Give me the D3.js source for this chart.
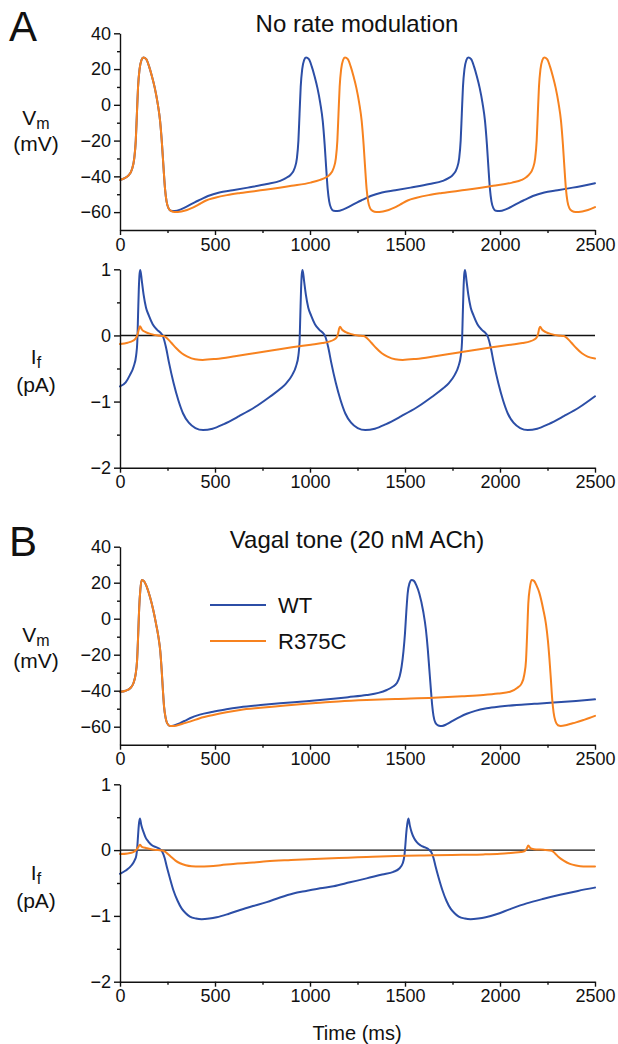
<!DOCTYPE html>
<html>
<head>
<meta charset="utf-8">
<script src="https://cdn.jsdelivr.net/npm/d3@7"></script>
<style>
  body { margin: 0; background: #fff; }
  svg text { font-family: "Liberation Sans", Arial, Helvetica, sans-serif; fill: #111; }
</style>
</head>
<body>
<svg id="svg" width="618" height="1044"></svg>
<script>
// ---- tick values and labels ----
const timeTicks = [0, 500, 1000, 1500, 2000, 2500];
const timeMinorTicks = [250, 750, 1250, 1750, 2250];
const vmTicks = [-60, -40, -20, 0, 20, 40];
const vmMinorTicks = [-50, -30, -10, 10, 30];
const ifTicks = [-2, -1, 0, 1];
const ifMinorTicks = [-1.5, -0.5, 0.5];
const seriesNames = ["WT", "R375C"];
const panelTitles = ["No rate modulation", "Vagal tone (20 nM ACh)"];
const panelLetters = ["A", "B"];

// ---- A: no rate modulation, membrane voltage [time ms, mV] ----
const vmWtA = [
  [0,-42],[25,-41],[45,-39.5],[63,-36],[75,-30],[83,-20],[89,-5],[95,10],[103,20],[113,25],[123,26.5],
  [138,25.5],[153,21.5],[168,16],[183,9.5],[198,1],[211,-9],[221,-22],[229,-35],[237,-47],[245,-54],[255,-57.8],[268,-59.3],[288,-59.4],
  [323,-58.3],[358,-56.5],[393,-54.5],[423,-53],[463,-51],[523,-49],[593,-47.8],[673,-46.3],[773,-44.3],[843,-42.5],[873,-41],
  [899,-39],[919,-35.5],[931,-30],[939,-20],[945,-5],[951,10],[959,20],[969,25],[979,26.5],
  [994,25.5],[1009,21.5],[1024,16],[1039,9.5],[1054,1],[1067,-9],[1077,-22],[1085,-35],[1093,-47],[1101,-54],[1111,-57.8],[1124,-59.3],[1144,-59.4],
  [1179,-58.3],[1214,-56.5],[1249,-54.5],[1279,-53],[1319,-51],[1379,-49],[1449,-47.8],[1529,-46.3],[1629,-44.3],[1699,-42.5],[1729,-41],
  [1753,-39],[1773,-35.5],[1785,-30],[1793,-20],[1799,-5],[1805,10],[1813,20],[1823,25],[1833,26.5],
  [1848,25.5],[1863,21.5],[1878,16],[1893,9.5],[1908,1],[1921,-9],[1931,-22],[1939,-35],[1947,-47],[1955,-54],[1965,-57.8],[1978,-59.3],[1998,-59.4],
  [2033,-58.3],[2068,-56.5],[2103,-54.5],[2133,-53],[2173,-51],[2233,-49],[2303,-47.8],[2383,-46.3],[2500,-43.8]
];
const vmR375cA = [
  [0,-42],[25,-41],[45,-39.5],[63,-36],[75,-30],[83,-20],[89,-5],[95,10],[103,20],[113,25],[123,26.5],
  [138,25.5],[153,21.5],[168,16],[183,9.5],[198,1],[211,-9],[221,-22],[229,-35],[237,-47],[245,-54],[255,-57.8],[268,-59.3],[288,-60],
  [323,-59.6],[353,-58.8],[383,-57.5],[413,-55.8],[453,-53.5],[500,-52],[563,-50.5],[633,-49.3],[763,-47.5],[903,-45.3],[1003,-43.5],[1053,-42],[1085,-40.5],
  [1104,-39],[1124,-35.5],[1136,-30],[1144,-20],[1150,-5],[1156,10],[1164,20],[1174,25],[1184,26.5],
  [1199,25.5],[1214,21.5],[1229,16],[1244,9.5],[1259,1],[1272,-9],[1282,-22],[1290,-35],[1298,-47],[1306,-54],[1316,-57.8],[1329,-59.3],[1349,-60],
  [1384,-59.6],[1414,-58.8],[1444,-57.5],[1474,-55.8],[1514,-53.5],[1561,-52],[1624,-50.5],[1694,-49.3],[1824,-47.5],[1964,-45.3],[2064,-43.5],[2114,-42],[2138,-40.5],
  [2153,-39],[2173,-35.5],[2185,-30],[2193,-20],[2199,-5],[2205,10],[2213,20],[2223,25],[2233,26.5],
  [2248,25.5],[2263,21.5],[2278,16],[2293,9.5],[2308,1],[2321,-9],[2331,-22],[2339,-35],[2347,-47],[2355,-54],[2365,-57.8],[2378,-59.3],[2398,-60],
  [2433,-59.6],[2463,-58.8],[2500,-57.2]
];

// ---- A: funny current [time ms, pA] ----
const ifWtA = [
  [0,-0.77],[30,-0.71],[52,-0.6],[72,-0.47],[85,-0.3],[91,-0.1],[95,0.3],[99,0.7],[103,0.93],[107,0.99],
  [115,0.82],[124,0.62],[137,0.42],[152,0.3],[172,0.17],[197,0.08],[217,0.03],[227,-0.02],[242,-0.18],[257,-0.4],[282,-0.72],[307,-0.98],[332,-1.18],[362,-1.32],[397,-1.4],[437,-1.43],[487,-1.41],[547,-1.34],[627,-1.22],[707,-1.09],[787,-0.93],[847,-0.8],
  [876,-0.72],[906,-0.6],[926,-0.47],[939,-0.3],[945,-0.1],[949,0.3],[953,0.7],[957,0.93],[961,0.99],
  [969,0.82],[978,0.62],[991,0.42],[1006,0.3],[1026,0.17],[1051,0.08],[1071,0.03],[1081,-0.02],[1096,-0.18],[1111,-0.4],[1136,-0.72],[1161,-0.98],[1186,-1.18],[1216,-1.32],[1251,-1.4],[1291,-1.43],[1341,-1.41],[1401,-1.34],[1481,-1.22],[1561,-1.09],[1641,-0.93],[1701,-0.8],
  [1731,-0.72],[1761,-0.6],[1781,-0.47],[1794,-0.3],[1800,-0.1],[1804,0.3],[1808,0.7],[1812,0.93],[1816,0.99],
  [1824,0.82],[1833,0.62],[1846,0.42],[1861,0.3],[1881,0.17],[1906,0.08],[1926,0.03],[1936,-0.02],[1951,-0.18],[1966,-0.4],[1991,-0.72],[2016,-0.98],[2041,-1.18],[2071,-1.32],[2106,-1.4],[2146,-1.43],[2196,-1.41],[2256,-1.34],[2336,-1.22],[2416,-1.09],[2500,-0.92]
];
const ifR375cA = [
  [0,-0.13],[40,-0.11],[68,-0.08],[84,-0.04],[93,0.02],[99,0.09],[105,0.14],
  [115,0.09],[135,0.05],[165,0.02],[200,0.0],[230,-0.01],[250,-0.05],[270,-0.11],[295,-0.19],[325,-0.27],[355,-0.32],[395,-0.36],[435,-0.37],[505,-0.355],[605,-0.315],[705,-0.27],[805,-0.225],[905,-0.18],[1005,-0.14],[1065,-0.115],[1105,-0.09],[1125,-0.065],
  [1140,-0.03],[1148,0.03],[1153,0.1],[1158,0.13],
  [1168,0.09],[1188,0.05],[1218,0.02],[1253,0.0],[1283,-0.01],[1303,-0.05],[1323,-0.11],[1348,-0.19],[1378,-0.27],[1408,-0.32],[1448,-0.36],[1488,-0.37],[1558,-0.355],[1658,-0.315],[1758,-0.27],[1858,-0.225],[1958,-0.18],[2058,-0.14],[2118,-0.115],[2158,-0.09],[2178,-0.065],
  [2193,-0.03],[2201,0.03],[2206,0.1],[2211,0.13],
  [2221,0.09],[2241,0.05],[2271,0.02],[2306,0.0],[2336,-0.01],[2356,-0.05],[2376,-0.11],[2401,-0.19],[2431,-0.27],[2461,-0.32],[2500,-0.35]
];

// ---- B: vagal tone, membrane voltage ----
const vmWtB = [
  [0,-40.6],[30,-40],[55,-38.5],[70,-36],[82,-31],[90,-23],[96,-8],[101,6],[107,16],[114,21.5],
  [125,21],[140,18],[158,12],[175,4.8],[190,-3],[202,-10],[212,-18],[219,-28],[226,-40],[232,-49],[240,-55],[248,-58],[263,-59.6],[285,-59.3],
  [316,-58],[340,-56.8],[368,-55.3],[420,-53.3],[491,-51.7],[560,-50.3],[632,-49.2],[740,-48],[842,-47],[947,-46.1],[1053,-45.2],[1123,-44.5],[1200,-43.6],[1298,-42.4],[1360,-41.2],[1404,-39.6],[1435,-37.8],[1456,-35.9],
  [1472,-32],[1482,-26.7],[1492,-18],[1500,-8],[1507,4],[1514,14],[1523,19.5],[1535,21.5],
  [1547,21],[1560,18.5],[1575,14],[1596,4],[1610,-6],[1620,-17],[1628,-28],[1636,-39],[1643,-48],[1650,-54],[1660,-57.8],[1675,-59.3],[1695,-59.6],
  [1720,-58.6],[1750,-56.8],[1790,-54.5],[1825,-52.8],[1870,-51.2],[1930,-49.8],[2000,-48.8],[2088,-47.9],[2180,-47.3],[2281,-46.6],[2400,-45.7],[2500,-44.8]
];
const vmR375cB = [
  [0,-40.6],[30,-40],[55,-38.5],[70,-36],[82,-31],[90,-23],[96,-8],[101,6],[107,16],[114,21.5],
  [125,21],[140,18],[158,12],[175,4.8],[190,-3],[202,-10],[212,-18],[219,-28],[226,-40],[232,-49],[240,-55],[248,-58],[263,-59.6],[285,-59.6],
  [316,-58.8],[340,-58],[368,-57.2],[420,-55.3],[491,-53.5],[560,-52],[632,-50.7],[740,-49.5],[842,-48.5],[947,-47.5],[1053,-46.7],[1150,-46],[1298,-45.2],[1450,-44.6],[1649,-43.9],[1800,-43.1],[1912,-42.4],[1990,-41.6],[2053,-40.6],[2090,-38.5],[2114,-35.9],
  [2128,-31],[2137,-23],[2143,-8],[2149,8.5],[2157,17],[2167,21.5],
  [2179,21],[2192,18.5],[2207,14.5],[2228,5],[2242,-3],[2252,-12],[2260,-22],[2268,-34],[2275,-45],[2282,-52],[2292,-57],[2305,-59.2],[2320,-59.6],
  [2345,-59.2],[2368,-58.5],[2400,-57.6],[2439,-56.3],[2470,-55.2],[2500,-54]
];

// ---- B: funny current ----
const ifWtB = [
  [0,-0.36],[30,-0.31],[61,-0.23],[78,-0.15],[86,-0.08],[91,0.05],[95,0.22],[99,0.38],[105,0.48],
  [112,0.38],[123,0.28],[135,0.19],[149,0.13],[170,0.07],[193,0.04],[212,0.01],[223,-0.03],[235,-0.12],[246,-0.25],[262,-0.42],[281,-0.61],[303,-0.77],[325,-0.89],[346,-0.96],[368,-1.01],[400,-1.04],[430,-1.05],[470,-1.04],[509,-1.02],[570,-0.97],[632,-0.91],[700,-0.85],[772,-0.79],[842,-0.72],[912,-0.66],[980,-0.62],[1053,-0.58],[1123,-0.55],[1210,-0.49],[1298,-0.43],[1380,-0.37],[1439,-0.33],[1470,-0.28],
  [1488,-0.2],[1497,-0.08],[1502,0.08],[1507,0.27],[1512,0.4],[1518,0.48],
  [1525,0.38],[1535,0.27],[1548,0.18],[1562,0.12],[1583,0.07],[1606,0.04],[1625,0.01],[1638,-0.03],[1650,-0.12],[1661,-0.25],[1677,-0.42],[1697,-0.61],[1718,-0.77],[1740,-0.89],[1761,-0.96],[1783,-1.01],[1815,-1.04],[1845,-1.05],[1885,-1.04],[1925,-1.02],[1985,-0.97],[2050,-0.9],[2140,-0.81],[2230,-0.74],[2316,-0.68],[2410,-0.62],[2500,-0.57]
];
const ifR375cB = [
  [0,-0.06],[40,-0.05],[70,-0.03],[88,0.01],[97,0.05],[105,0.08],
  [115,0.05],[140,0.03],[170,0.01],[200,0.0],[228,-0.01],[248,-0.05],[268,-0.1],[292,-0.16],[316,-0.2],[346,-0.23],[377,-0.245],[420,-0.25],[470,-0.245],[530,-0.23],[596,-0.21],[700,-0.19],[772,-0.17],[900,-0.15],[1053,-0.13],[1200,-0.115],[1298,-0.105],[1450,-0.09],[1649,-0.08],[1800,-0.072],[1912,-0.065],[2000,-0.055],[2070,-0.04],[2110,-0.03],
  [2130,-0.015],[2140,0.02],[2149,0.07],
  [2157,0.04],[2167,0.02],[2190,0.01],[2211,0.01],[2240,0.0],[2272,-0.01],[2290,-0.05],[2307,-0.1],[2335,-0.16],[2368,-0.21],[2400,-0.235],[2439,-0.25],[2470,-0.25],[2500,-0.25]
];

const colors = { WT: "#2c4ea6", R375C: "#f7821f" };

let svg = d3.select("svg");
let x = d3.scaleLinear().domain([0, 2500]).range([120, 595]);
let fmt = d3.format("d");

let line = d3.line()
  .x(d => x(d[0]))
  .curve(d3.curveMonotoneX);

function drawPanel(p) {
  let y = d3.scaleLinear().domain(p.domain).range([p.bottom, p.top]);
  let g = svg.append("g");

  // zero current line
  if (p.zero) {
    g.append("line")
      .attr("x1", x(0)).attr("x2", x(2500))
      .attr("y1", y(0)).attr("y2", y(0))
      .attr("stroke", "#111").attr("stroke-width", 1.4);
  }

  // traces, WT first so the mutant sits on top
  [p.wt, p.mut].forEach((data, i) => {
    g.append("path")
      .datum(data)
      .attr("fill", "none")
      .attr("stroke", colors[seriesNames[i]])
      .attr("stroke-width", 2)
      .attr("stroke-linejoin", "round")
      .attr("stroke-linecap", "round")
      .attr("d", line.y(d => y(d[1])));
  });

  // x axis (major + minor)
  g.append("g")
    .attr("transform", "translate(0," + p.bottom + ")")
    .call(d3.axisBottom(x).tickValues(timeTicks).tickFormat(fmt).tickSize(5).tickPadding(3).tickSizeOuter(0));
  g.append("g")
    .attr("transform", "translate(0," + p.bottom + ")")
    .call(d3.axisBottom(x).tickValues(timeMinorTicks).tickSize(3).tickFormat(""))
    .select(".domain").remove();

  // y axis
  g.append("g")
    .attr("transform", "translate(" + x(0) + ",0)")
    .call(d3.axisLeft(y).tickValues(p.ticks).tickFormat(fmt).tickSize(6).tickPadding(3).tickSizeOuter(0));
  g.append("g")
    .attr("transform", "translate(" + x(0) + ",0)")
    .call(d3.axisLeft(y).tickValues(p.minor).tickSize(3).tickFormat(""))
    .select(".domain").remove();

  g.selectAll("g").attr("font-family", null).attr("font-size", null);
  g.selectAll(".tick line, .domain").attr("stroke", "#111").attr("stroke-width", 1.4);
  g.selectAll(".tick text").attr("font-size", 18).attr("fill", "#111");

  // y label: symbol with subscript, unit below
  let lab = g.append("text")
    .attr("x", 36).attr("y", p.labelY)
    .attr("text-anchor", "middle")
    .attr("font-size", 21);
  lab.append("tspan").text(p.sym);
  lab.append("tspan").attr("font-size", 16).attr("dy", 4).text(p.sub);
  g.append("text")
    .attr("x", 36).attr("y", p.labelY + p.unitGap)
    .attr("text-anchor", "middle")
    .attr("font-size", 21)
    .text(p.unit);
  return y;
}

let panels = [
  { top: 33.3, bottom: 230, domain: [-70, 40], ticks: vmTicks, minor: vmMinorTicks, wt: vmWtA, mut: vmR375cA,
    sym: "V", sub: "m", unit: "(mV)", labelY: 125, unitGap: 26 },
  { top: 269.3, bottom: 467.7, domain: [-2, 1], ticks: ifTicks, minor: ifMinorTicks, wt: ifWtA, mut: ifR375cA, zero: true,
    sym: "I", sub: "f", unit: "(pA)", labelY: 364, unitGap: 28 },
  { top: 546.7, bottom: 744.7, domain: [-70, 40], ticks: vmTicks, minor: vmMinorTicks, wt: vmWtB, mut: vmR375cB,
    sym: "V", sub: "m", unit: "(mV)", labelY: 642, unitGap: 26 },
  { top: 784.3, bottom: 981.7, domain: [-2, 1], ticks: ifTicks, minor: ifMinorTicks, wt: ifWtB, mut: ifR375cB, zero: true,
    sym: "I", sub: "f", unit: "(pA)", labelY: 880, unitGap: 28 }
];
panels.forEach(drawPanel);

// panel letters and titles
[[41, 32], [556, 548]].forEach((pos, i) => {
  svg.append("text").attr("x", 9).attr("y", pos[0])
    .attr("font-size", 42).text(panelLetters[i]);
  svg.append("text").attr("x", 357).attr("y", pos[1])
    .attr("text-anchor", "middle").attr("font-size", 24).text(panelTitles[i]);
});

// legend
seriesNames.forEach((name, i) => {
  let ly = 605 + i * 36;
  svg.append("line").attr("x1", 210).attr("x2", 266).attr("y1", ly).attr("y2", ly)
    .attr("stroke", colors[name]).attr("stroke-width", 2);
  svg.append("text").attr("x", 278).attr("y", ly + 8).attr("font-size", 22).text(name);
});

// shared x label
svg.append("text").attr("x", 357).attr("y", 1040)
  .attr("text-anchor", "middle").attr("font-size", 20).text("Time (ms)");
</script>
</body>
</html>
